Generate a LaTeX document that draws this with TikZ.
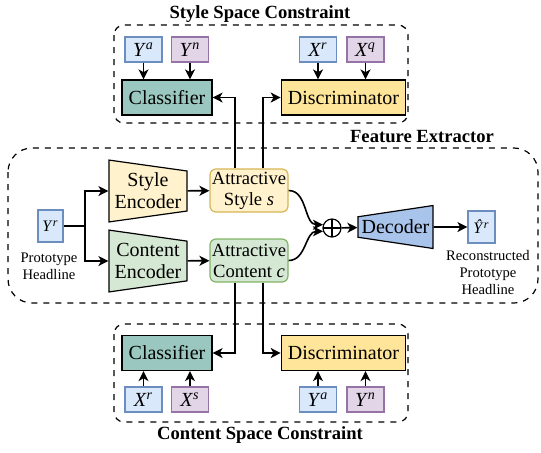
\documentclass[tikz,border=0pt]{standalone}
\usepackage{fontspec}
\setmainfont{Liberation Serif}
\usetikzlibrary{arrows.meta,shapes.geometric}
\definecolor{bluefill}{HTML}{DAE8FC}
\definecolor{blueline}{HTML}{6C8EBF}
\definecolor{purplefill}{HTML}{E1D5E7}
\definecolor{purpleline}{HTML}{9673A6}
\definecolor{yellowfill}{HTML}{FFF2CC}
\definecolor{yellowline}{HTML}{D6B656}
\definecolor{greenfill}{HTML}{D5E8D4}
\definecolor{greenline}{HTML}{82B366}
\definecolor{tealfill}{HTML}{9AC7BF}
\definecolor{goldfill}{HTML}{FFE599}
\definecolor{decfill}{HTML}{A9C4EB}
\newcommand{\var}[2]{\textit{#1}\textsuperscript{\textit{#2}}}
\begin{document}
\begin{tikzpicture}[x=0.5pt, y=-0.5pt, font=\fontsize{10}{11}\selectfont,
    arr/.style={-{Stealth[length=5pt,width=5pt,inset=1.4pt]}, line width=0.8pt},
    frame/.style={dashed, line width=0.6pt, rounded corners=5pt},
    title/.style={font=\fontsize{9.3}{11}\selectfont\bfseries},
    note/.style={font=\fontsize{7.3}{8.5}\selectfont, align=center},
    bluevar/.style={draw=blueline, fill=bluefill, line width=0.6pt, minimum width=18.5pt, minimum height=12.5pt, inner sep=0pt},
    purplevar/.style={draw=purpleline, fill=purplefill, line width=0.6pt, minimum width=18.5pt, minimum height=12.5pt, inner sep=0pt},
    clf/.style={draw, fill=tealfill, line width=0.6pt, minimum width=44pt, minimum height=17.5pt},
    dis/.style={draw, fill=goldfill, line width=0.6pt, minimum width=55.5pt, minimum height=17.5pt},
    feat/.style={rounded corners=3pt, line width=0.6pt, minimum width=39pt, minimum height=21.5pt, inner sep=0pt, align=center, font=\fontsize{9.3}{10.5}\selectfont},
    trap/.style={trapezium, draw, line width=0.6pt, trapezium stretches=true, align=center, inner sep=0pt}]
    \useasboundingbox (0,0) rectangle (541,452);
    % 风格空间约束
    \node[title] (stitle) at (260,14) {Style Space Constraint};
    \draw[frame] (114,25) rectangle (408,123);
    \node[bluevar] (sya) at (143.5,49.5) {\var{Y}{a}};
    \node[purplevar] (syn) at (190,49.5) {\var{Y}{n}};
    \node[bluevar] (sxr) at (318,49.5) {\var{X}{r}};
    \node[purplevar] (sxq) at (365.5,49.5) {\var{X}{q}};
    \node[clf] (sclf) at (167,97.5) {Classifier};
    \node[dis] (sdis) at (343.5,97.5) {Discriminator};
    \draw[arr] (sya) -- (sya |- sclf.north);
    \draw[arr] (syn) -- (syn |- sclf.north);
    \draw[arr] (sxr) -- (sxr |- sdis.north);
    \draw[arr] (sxq) -- (sxq |- sdis.north);
    % 特征提取器
    \node[title] (ftitle) at (422,137) {Feature Extractor};
    \draw[frame, rounded corners=12pt] (8,148) rectangle (538,303);
    \node[bluevar, minimum width=12.5pt, minimum height=16pt, font=\fontsize{8}{9}\selectfont] (yr) at (50.5,226) {\var{Y}{r}};
    \node[note] (yrlab) at (49,266) {Prototype\\Headline};
    \node[trap, fill=yellowfill, shape border rotate=270, trapezium left angle=81.6, trapezium right angle=81.6, minimum width=31pt, minimum height=39pt] (senc) at (148,191) {Style\\Encoder};
    \node[trap, fill=greenfill, shape border rotate=270, trapezium left angle=81.6, trapezium right angle=81.6, minimum width=31pt, minimum height=39pt] (cenc) at (148,261) {Content\\Encoder};
    \node[feat, draw=yellowline, fill=yellowfill] (sty) at (249,190.5) {Attractive\\Style \textit{s}};
    \node[feat, draw=greenline, fill=greenfill] (cnt) at (249,260.5) {Attractive\\Content \textit{c}};
    \node[circle, draw, line width=0.6pt, minimum size=9pt, inner sep=0pt,
        path picture={\draw[line width=0.6pt] (path picture bounding box.north) -- (path picture bounding box.south)
        (path picture bounding box.west) -- (path picture bounding box.east);}] (plus) at (332,228) {};
    \node[trap, fill=decfill, shape border rotate=90, trapezium left angle=83.5, trapezium right angle=83.5, minimum width=21.5pt, minimum height=37.5pt] (dec) at (395.5,227) {Decoder};
    \node[bluevar, minimum width=13.5pt, minimum height=16pt, font=\fontsize{8}{9}\selectfont] (yhat) at (481.5,227) {\textit{\^{Y}}\textsuperscript{\textit{r}}};
    \node[note] (yhatlab) at (488,272) {Reconstructed\\Prototype\\Headline};
    \coordinate (br) at (85,226);
    \draw[line width=0.8pt] (yr) -- (br);
    \draw[arr] (br) |- (senc);
    \draw[arr] (br) |- (cenc);
    \draw[arr] (senc) -- (sty);
    \draw[arr] (cenc) -- (cnt);
    \draw[arr] (sty.east) to[out=0, in=180] (plus.160);
    \draw[arr] (cnt.east) to[out=0, in=180] (plus.200);
    \draw[arr] (plus) -- (dec);
    \draw[arr] (dec) -- (yhat);
    % 内容空间约束
    \node[title] (ctitle) at (260,435) {Content Space Constraint};
    \draw[frame] (114,324) rectangle (408,422);
    \node[clf] (cclf) at (167,353) {Classifier};
    \node[dis] (cdis) at (343.5,353) {Discriminator};
    \node[bluevar] (cxr) at (143.5,399.5) {\var{X}{r}};
    \node[purplevar] (cxs) at (190,399.5) {\var{X}{s}};
    \node[bluevar] (cya) at (318,399.5) {\var{Y}{a}};
    \node[purplevar] (cyn) at (365.5,399.5) {\var{Y}{n}};
    \draw[arr] (cxr) -- (cxr |- cclf.south);
    \draw[arr] (cxs) -- (cxs |- cclf.south);
    \draw[arr] (cya) -- (cya |- cdis.south);
    \draw[arr] (cyn) -- (cyn |- cdis.south);
    % 约束连线
    \draw[arr] ([xshift=-7pt]sty.north) |- (sclf.east);
    \draw[arr] ([xshift=7pt]sty.north) |- (sdis.west);
    \draw[arr] ([xshift=-7pt]cnt.south) |- (cclf.east);
    \draw[arr] ([xshift=7pt]cnt.south) |- (cdis.west);
\end{tikzpicture}
\end{document}
